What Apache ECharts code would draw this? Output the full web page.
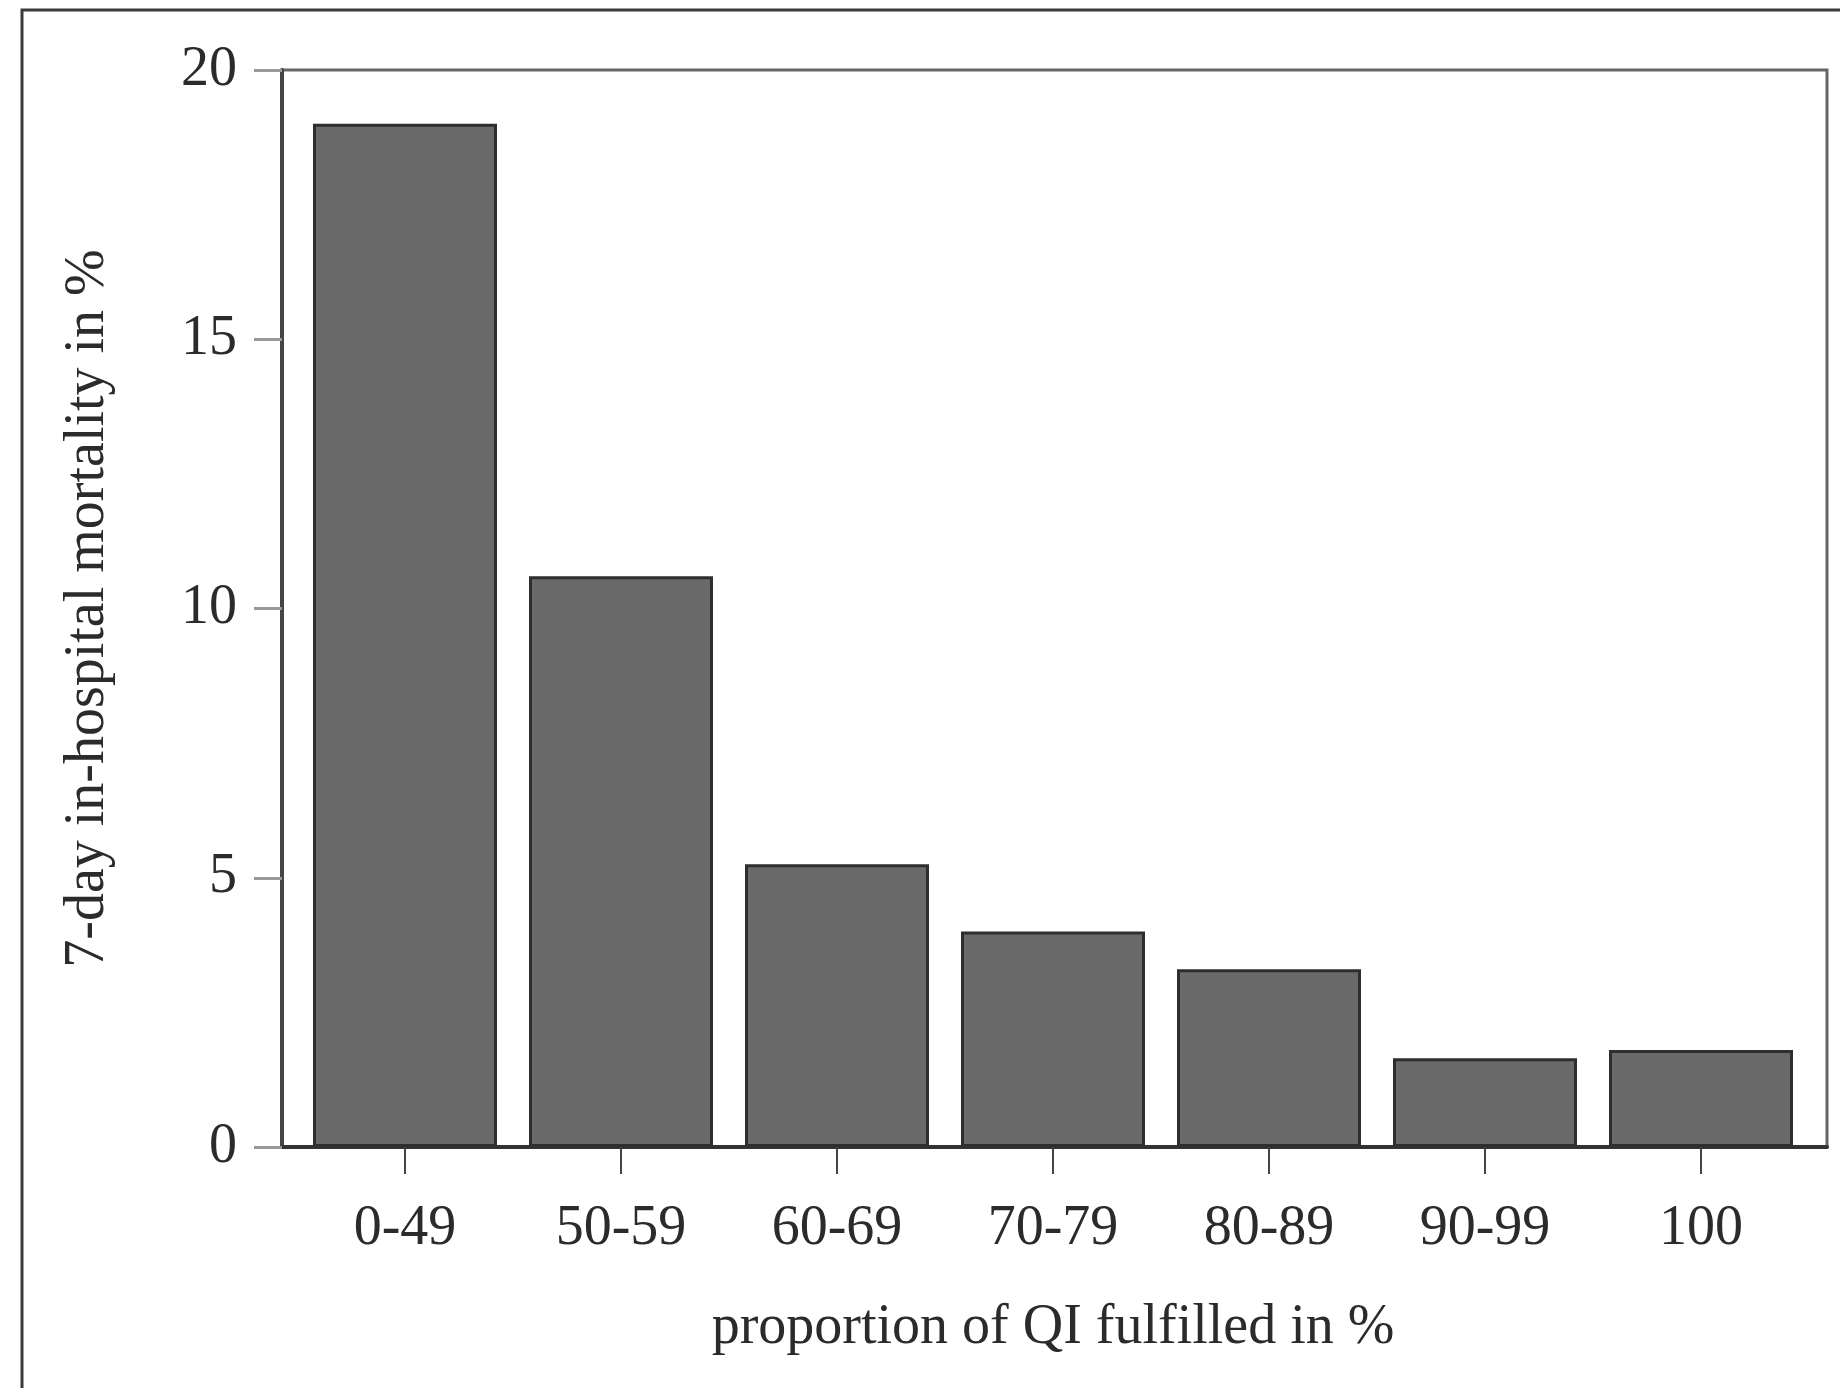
<!DOCTYPE html>
<html>
<head>
<meta charset="utf-8">
<script src="https://cdn.jsdelivr.net/npm/echarts@6/dist/echarts.min.js"></script>
<style>html,body{margin:0;padding:0;background:#fff}#c{width:1840px;height:1388px}</style>
</head>
<body>
<div id="c"></div>
<script>
var categories = ['0-49', '50-59', '60-69', '70-79', '80-89', '90-99', '100'];
var mortality = [19.0, 10.6, 5.25, 4.0, 3.3, 1.65, 1.8];
var yTicks = [0, 5, 10, 15, 20];
var xTitle = 'proportion of QI fulfilled in %';
var yTitle = '7-day in-hospital mortality in %';

var font = 'Liberation Serif';
var chart = echarts.init(document.getElementById('c'));
chart.setOption({
  backgroundColor: '#fff',
  animation: false,
  graphic: [{
    type: 'rect', silent: true,
    shape: { x: 22, y: 10, width: 1900, height: 1500 },
    style: { fill: 'none', stroke: '#3a3a3a', lineWidth: 3 }
  }],
  grid: [
    { left: 282, right: 13, top: 70, bottom: 241, show: true, borderColor: '#666', borderWidth: 3, backgroundColor: 'transparent' },
    { left: 297, right: 31, top: 70, bottom: 241 }
  ],
  xAxis: [
    {
      gridIndex: 0, type: 'category', data: categories,
      axisLine: { show: true, lineStyle: { color: '#333', width: 4 } },
      axisTick: { show: false }, axisLabel: { show: false }
    },
    {
      gridIndex: 1, type: 'category', data: categories,
      axisLine: { show: false },
      axisTick: { show: true, alignWithLabel: true, length: 27, lineStyle: { color: '#444', width: 2 } },
      axisLabel: { fontFamily: font, fontSize: 56, color: '#2b2b2b', margin: 54 },
      name: xTitle, nameLocation: 'middle', nameGap: 153,
      nameTextStyle: { fontFamily: font, fontSize: 56, color: '#2b2b2b' }
    }
  ],
  yAxis: [
    {
      gridIndex: 0, type: 'value', min: yTicks[0], max: yTicks[yTicks.length - 1], interval: 5,
      axisLine: { show: true, lineStyle: { color: '#444', width: 4 } },
      axisTick: { show: true, length: 28, lineStyle: { color: '#999', width: 3 } },
      axisLabel: { fontFamily: font, fontSize: 56, color: '#2b2b2b', margin: 45 },
      splitLine: { show: false },
      name: yTitle, nameLocation: 'middle', nameGap: 166,
      nameTextStyle: { fontFamily: font, fontSize: 56, color: '#2b2b2b' }
    },
    { gridIndex: 1, type: 'value', min: 0, max: 20, show: false }
  ],
  series: [{
    type: 'bar', xAxisIndex: 1, yAxisIndex: 1,
    data: mortality, barWidth: 184,
    itemStyle: { color: '#6a6a6a', borderColor: '#2e2e2e', borderWidth: 3 }
  }]
});
</script>
</body>
</html>
